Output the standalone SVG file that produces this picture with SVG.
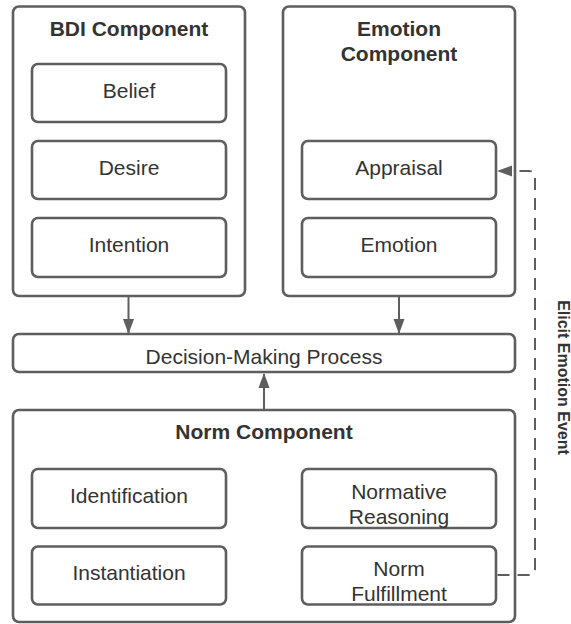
<svg xmlns="http://www.w3.org/2000/svg" width="571" height="624" viewBox="0 0 571 624">
<style>
.box{fill:#ffffff;stroke:#5e5e5e;stroke-width:2.6}
.t{font-family:"Liberation Sans",Arial,sans-serif;font-size:21px;fill:#333333;text-anchor:middle}
.b{font-weight:bold}
.c{fill:none;stroke:#5e5e5e;stroke-width:2}
</style>
<defs>
<marker id="arr" markerWidth="15" markerHeight="12" refX="14" refY="6" orient="auto" markerUnits="userSpaceOnUse">
<path d="M0,0.5 L15,6 L0,11.5 Z" fill="#5e5e5e"/>
</marker>
</defs>
<rect width="571" height="624" fill="#ffffff"/>
<g id="bdi">
<rect class="box" x="13" y="6.5" width="232" height="289.5" rx="6"/>
<text class="t b" x="129" y="35.5">BDI Component</text>
</g>
<g id="belief"><rect class="box" x="32" y="64" width="194" height="58" rx="6"/><text class="t" x="129" y="97.5">Belief</text></g>
<g id="desire"><rect class="box" x="32" y="141" width="194" height="58" rx="6"/><text class="t" x="129" y="174.5">Desire</text></g>
<g id="intention"><rect class="box" x="32" y="218" width="194" height="59" rx="6"/><text class="t" x="129" y="251.5">Intention</text></g>
<g id="emotionComponent">
<rect class="box" x="283" y="6.5" width="232" height="289.5" rx="6"/>
<text class="t b" x="399" y="35.5">Emotion</text>
<text class="t b" x="399" y="61">Component</text>
</g>
<g id="appraisal"><rect class="box" x="302" y="141" width="194" height="58" rx="6"/><text class="t" x="399" y="174.5">Appraisal</text></g>
<g id="emotion"><rect class="box" x="302" y="218" width="194" height="59" rx="6"/><text class="t" x="399" y="251.5">Emotion</text></g>
<g id="decision"><rect class="box" x="13" y="334" width="502" height="38" rx="6"/><text class="t" x="264" y="363.5">Decision-Making Process</text></g>
<g id="norm">
<rect class="box" x="13" y="410" width="502" height="212" rx="6"/>
<text class="t b" x="264" y="439">Norm Component</text>
</g>
<g id="identification"><rect class="box" x="32" y="469" width="194" height="59" rx="6"/><text class="t" x="129" y="503">Identification</text></g>
<g id="instantiation"><rect class="box" x="32" y="546.5" width="194" height="58" rx="6"/><text class="t" x="129" y="580">Instantiation</text></g>
<g id="normativeReasoning"><rect class="box" x="302" y="469" width="194" height="59" rx="6"/><text class="t" x="399" y="498.5">Normative</text><text class="t" x="399" y="524">Reasoning</text></g>
<g id="normFulfillment"><rect class="box" x="302" y="546.5" width="194" height="58" rx="6"/><text class="t" x="399" y="575.5">Norm</text><text class="t" x="399" y="600.5">Fulfillment</text></g>
<g id="connectors">
<line class="c" x1="128.5" y1="297" x2="128.5" y2="333" marker-end="url(#arr)"/>
<line class="c" x1="399" y1="297" x2="399" y2="333" marker-end="url(#arr)"/>
<line class="c" x1="264" y1="409" x2="264" y2="374" marker-end="url(#arr)"/>
<path class="c" d="M497.5 575 L529 575 Q535 575 535 569 L535 177 Q535 171 529 171 L498 171" stroke-dasharray="12 8" marker-end="url(#arr)"/>
<text class="t b" style="font-size:16px" transform="translate(558,377.5) rotate(90)" x="0" y="0">Elicit Emotion Event</text>
</g>
</svg>
